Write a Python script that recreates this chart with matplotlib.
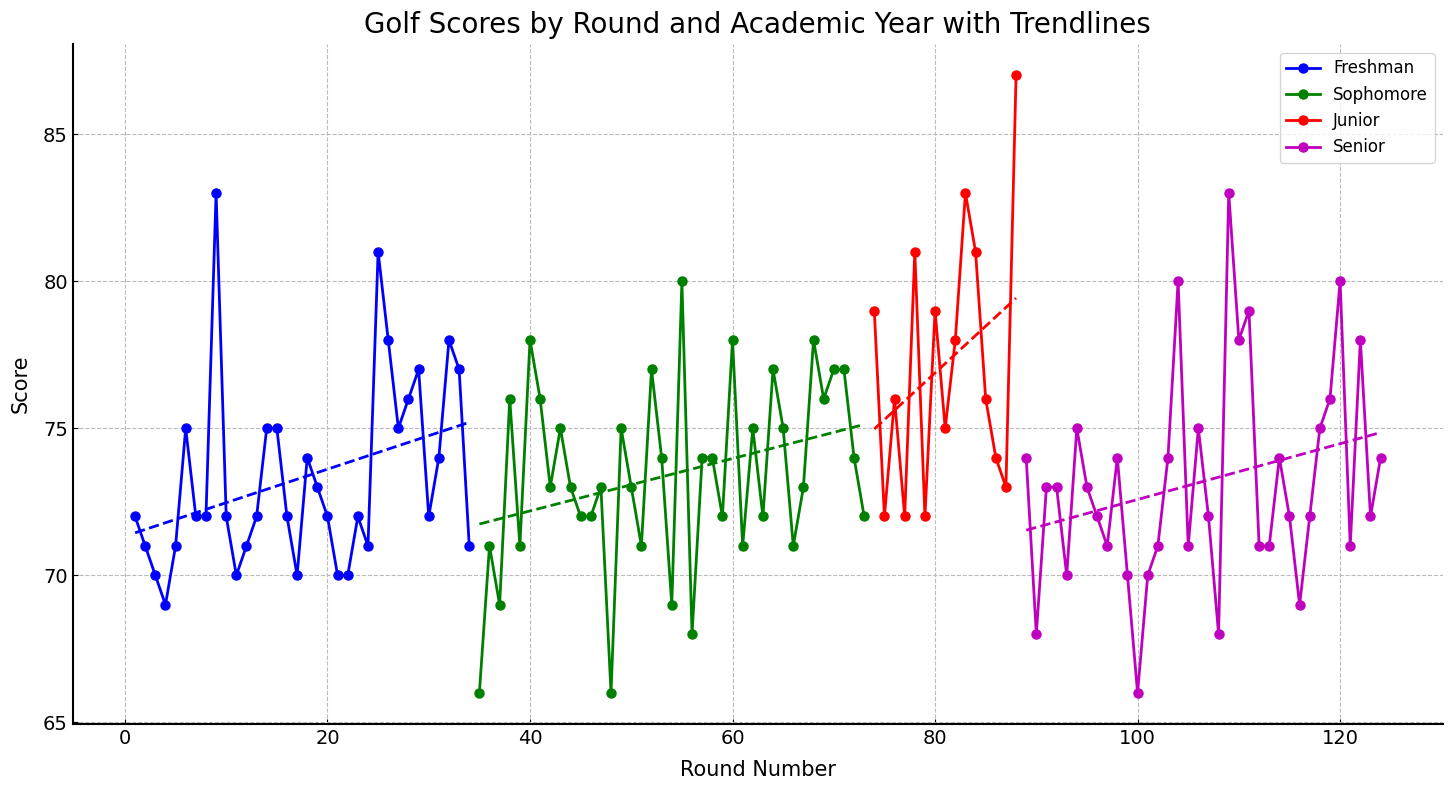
import numpy as np
import matplotlib
matplotlib.use("Agg")
import matplotlib.pyplot as plt

freshman = [72, 71, 70, 69, 71, 75, 72, 72, 83, 72, 70, 71, 72, 75, 75, 72, 70,
            74, 73, 72, 70, 70, 72, 71, 81, 78, 75, 76, 77, 72, 74, 78, 77, 71]
sophomore = [66, 71, 69, 76, 71, 78, 76, 73, 75, 73, 72, 72, 73, 66, 75, 73, 71,
             77, 74, 69, 80, 68, 74, 74, 72, 78, 71, 75, 72, 77, 75, 71, 73, 78,
             76, 77, 77, 74, 72]
junior = [79, 72, 76, 72, 81, 72, 79, 75, 78, 83, 81, 76, 74, 73, 87]
senior = [74, 68, 73, 73, 70, 75, 73, 72, 71, 74, 70, 66, 70, 71, 74, 80, 71, 75,
          72, 68, 83, 78, 79, 71, 71, 74, 72, 69, 72, 75, 76, 80, 71, 78, 72, 74]

years = ["Freshman", "Sophomore", "Junior", "Senior"]
colors = ["b", "g", "r", "m"]

fig, ax = plt.subplots(figsize=(14.56, 7.92), dpi=100)

start = 1
for name, scores, c in zip(years, [freshman, sophomore, junior, senior], colors):
    rounds = np.arange(start, start + len(scores))
    ax.plot(rounds, scores, "-o", color=c, label=name, linewidth=2, markersize=6.5)
    # linear trendline for this year
    z = np.polyfit(rounds, scores, 1)
    ax.plot(rounds, np.polyval(z, rounds), "--", color=c, linewidth=2)
    start += len(scores)

ax.set_title("Golf Scores by Round and Academic Year with Trendlines",
             fontsize=20, pad=8)
ax.set_xlabel("Round Number", fontsize=15, labelpad=9)
ax.set_ylabel("Score", fontsize=15, labelpad=9)
ax.tick_params(direction="in", labelsize=14)
ax.grid(True, linestyle="--", color="#bbbbbb", linewidth=0.8)
ax.spines["top"].set_visible(False)
ax.spines["right"].set_visible(False)
ax.spines["left"].set_linewidth(1.5)
ax.spines["bottom"].set_linewidth(1.5)
ax.legend(loc="upper right", fontsize=12)

fig.subplots_adjust(left=0.050, right=0.991, top=0.944, bottom=0.086)
fig.savefig("out.png")
